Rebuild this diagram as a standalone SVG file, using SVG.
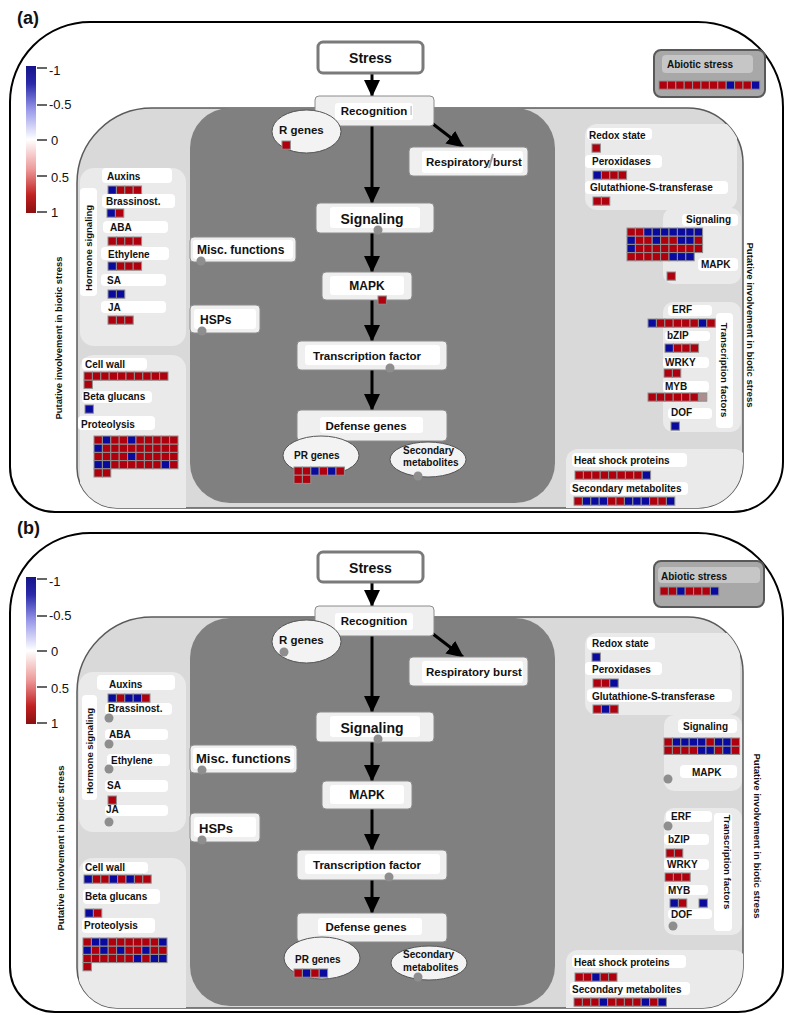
<svg xmlns="http://www.w3.org/2000/svg" xmlns:xlink="http://www.w3.org/1999/xlink" width="789" height="1015" viewBox="0 0 789 1015">
<style>
text{font-family:"Liberation Sans",Arial,sans-serif;fill:#111}
.pl{font-size:18px;font-weight:bold}
.lg{font-size:13px}
.l{font-size:10px;font-weight:bold}
.c14{font-size:14px;font-weight:bold;text-anchor:middle}
.c12{font-size:12px;font-weight:bold}
.c115{font-size:11.5px;font-weight:bold}
.mid{text-anchor:middle}
.vt{font-size:9.5px;font-weight:bold;text-anchor:middle}
.outer{fill:#fff;stroke:#000;stroke-width:2}
.inner{fill:#d9d9d9;stroke:#5a5a5a;stroke-width:1.5}
.dark{fill:#808080}
.sub{fill:#eaeaea}
.wl{fill:#fff}
.box{fill:#efefef;stroke:#8c8c8c;stroke-width:1}
.sbox{fill:#fff;stroke:#7a7a7a;stroke-width:3}
.ell{fill:#f3f3f3;stroke:#555;stroke-width:1}
.abox{fill:#a8a8a8;stroke:#595959;stroke-width:2}
.alab{fill:#c6c6c6}
.dot{fill:#8e8e8e}
.arr{stroke:#000;stroke-width:3;fill:none;marker-end:url(#ah)}
.tick{stroke:#333;stroke-width:1.5}
</style>
<defs>
<linearGradient id="lgd" x1="0" y1="0" x2="0" y2="1">
<stop offset="0" stop-color="#14148a"/>
<stop offset="0.12" stop-color="#2a2aaa"/>
<stop offset="0.3" stop-color="#9a9aea"/>
<stop offset="0.5" stop-color="#ffffff"/>
<stop offset="0.7" stop-color="#ee9a9a"/>
<stop offset="0.88" stop-color="#c02020"/>
<stop offset="1" stop-color="#8a1010"/>
</linearGradient>
<marker id="ah" markerUnits="userSpaceOnUse" markerWidth="17" markerHeight="16" refX="16" refY="8" orient="auto">
<path d="M0,0 L17,8 L0,16 Z" fill="#000"/>
</marker>
<rect id="R" width="8.4" height="8.2" fill="#b0000d" stroke="#8f8f8f" stroke-width="1"/>
<rect id="U" width="8.4" height="8.2" fill="#0a0a9e" stroke="#8f8f8f" stroke-width="1"/>
<rect id="G" width="8.4" height="8.2" fill="#b08c8c" stroke="#8f8f8f" stroke-width="1"/>
<clipPath id="clipA"><path d="M152,108 H688 A55,55 0 0 1 743,163 V463 A45,45 0 0 1 698,508 H117 A40,40 0 0 1 77,468 V183 A75,75 0 0 1 152,108 Z"/></clipPath>
<clipPath id="clipB"><path d="M152,617 H688 A55,55 0 0 1 743,672 V968 A40,40 0 0 1 703,1008 H117 A40,40 0 0 1 77,968 V692 A75,75 0 0 1 152,617 Z"/></clipPath>
</defs>

<!-- ================= PANEL A ================= -->
<g id="panel-a-frame">
<text x="17" y="24" class="pl">(a)</text>
<path class="outer" d="M90,22 H698 A85,85 0 0 1 783,107 V462 A50,50 0 0 1 733,512 H55 A45,45 0 0 1 10,467 V102 A80,80 0 0 1 90,22 Z"/>
<path class="inner" d="M152,108 H688 A55,55 0 0 1 743,163 V463 A45,45 0 0 1 698,508 H117 A40,40 0 0 1 77,468 V183 A75,75 0 0 1 152,108 Z"/>
<g clip-path="url(#clipA)">
<rect class="dark" x="190" y="108" width="365" height="395" rx="40"/>
<rect class="sub" x="80" y="168" width="106" height="178" rx="14"/>
<rect class="sub" x="80" y="355" width="106" height="170" rx="14"/>
<rect class="sub" x="585" y="124" width="152" height="86" rx="12"/>
<rect class="sub" x="663" y="208" width="78" height="76" rx="10"/>
<rect class="sub" x="663" y="302" width="78" height="130" rx="10"/>
<rect class="sub" x="566" y="449" width="180" height="70" rx="12"/>
</g>
</g>

<g id="legend-a">
<rect x="26" y="66" width="10" height="147" fill="url(#lgd)"/>
<line class="tick" x1="37" y1="68" x2="47" y2="68"/>
<line class="tick" x1="37" y1="105" x2="47" y2="105"/>
<line class="tick" x1="37" y1="140" x2="47" y2="140"/>
<line class="tick" x1="37" y1="176" x2="47" y2="176"/>
<line class="tick" x1="37" y1="212" x2="47" y2="212"/>
<text x="49" y="75" class="lg">-1</text>
<text x="49" y="109" class="lg">-0.5</text>
<text x="51" y="145" class="lg">0</text>
<text x="51" y="182" class="lg">0.5</text>
<text x="51" y="217" class="lg">1</text>
</g>

<g id="side-labels-a">
<text class="vt" transform="translate(62,338) rotate(-90)" textLength="163" lengthAdjust="spacingAndGlyphs">Putative involvement in biotic stress</text>
<text class="vt" transform="translate(746.5,325) rotate(90)" textLength="165" lengthAdjust="spacingAndGlyphs">Putative involvement in biotic stress</text>
</g>

<g id="connectors-a">
<line class="arr" x1="372" y1="73" x2="372" y2="96"/>
<line class="arr" x1="372" y1="126" x2="372" y2="203"/>
<line class="arr" x1="433" y1="124" x2="463" y2="147"/>
<line class="arr" x1="372" y1="233" x2="372" y2="272"/>
<line class="arr" x1="372" y1="300" x2="372" y2="341"/>
<line class="arr" x1="372" y1="370" x2="372" y2="410"/>
</g>

<g id="a-stress"><rect class="sbox" x="318" y="42" width="105" height="31" rx="5"/><text x="370.5" y="63" class="c14">Stress</text></g>
<g id="a-recognition"><rect class="box" x="315" y="96" width="119" height="30" rx="4"/><rect class="wl" x="335" y="103" width="78" height="17" rx="3"/><text x="374" y="115" class="c115 mid">Recognition</text><rect x="410.5" y="106" width="1.2" height="9" fill="#bbb"/></g>
<g id="a-rgenes"><ellipse class="ell" cx="306.5" cy="131.5" rx="34.5" ry="21.5"/><text x="279" y="134" class="c115">R genes</text><use href="#R" x="282" y="141"/></g>
<g id="a-resp"><rect class="box" x="409" y="147" width="119" height="29" rx="4"/><rect class="wl" x="422" y="151" width="101" height="22" rx="3"/><text x="426" y="166" class="c115">Respiratory burst</text><line x1="493" y1="154" x2="489" y2="168" stroke="#9a9a9a" stroke-width="2"/></g>
<g id="a-signaling"><rect class="box" x="316" y="203" width="118" height="30" rx="4"/><rect class="wl" x="330" y="207" width="90" height="21" rx="3"/><text x="372" y="224" class="c14">Signaling</text><circle class="dot" cx="378" cy="230" r="4.5"/></g>
<g id="a-misc"><rect class="box" x="190" y="237" width="106" height="25" rx="4"/><rect class="wl" x="193" y="240" width="100" height="19" rx="3"/><text x="197" y="254" class="c12">Misc. functions</text><circle class="dot" cx="201" cy="261" r="4.5"/></g>
<g id="a-mapk"><rect class="box" x="322" y="272" width="90" height="28" rx="4"/><rect class="wl" x="330" y="276" width="74" height="19" rx="3"/><text x="367" y="290" class="c12 mid">MAPK</text><use href="#R" x="378" y="296"/></g>
<g id="a-hsps"><rect class="box" x="190" y="305" width="70" height="28" rx="4"/><rect class="wl" x="194" y="309" width="62" height="20" rx="3"/><text x="200" y="324" class="c12">HSPs</text><circle class="dot" cx="202" cy="331" r="4.5"/></g>
<g id="a-tf"><rect class="box" x="297" y="341" width="150" height="29" rx="4"/><rect class="wl" x="305" y="345" width="135" height="20" rx="3"/><text x="367" y="360" class="c115 mid">Transcription factor</text><circle class="dot" cx="390" cy="368" r="4.5"/></g>
<g id="a-defense"><rect class="box" x="297" y="410" width="150" height="31" rx="4"/><rect class="wl" x="320" y="417" width="103" height="16" rx="3"/><text x="366" y="430" class="c115 mid">Defense genes</text></g>
<g id="a-prgenes"><ellipse class="ell" cx="321" cy="455.5" rx="38" ry="19.5"/><text x="294" y="459" class="l">PR genes</text>
<g transform="translate(294,467)"><use href="#R" x="0"/><use href="#R" x="8.4"/><use href="#U" x="16.8"/><use href="#R" x="25.2"/><use href="#U" x="33.6"/><use href="#R" x="42"/><use href="#R" x="0" y="8.2"/><use href="#R" x="8.4" y="8.2"/></g></g>
<g id="a-secmet"><ellipse class="ell" cx="428" cy="459.5" rx="38" ry="17.5"/><text x="403" y="454" class="l">Secondary</text><text x="403" y="466" class="l">metabolites</text><circle class="dot" cx="418" cy="476" r="4.5"/></g>

<g id="a-hormone">
<rect class="wl" x="80" y="188" width="17" height="108" rx="4"/>
<text class="vt" transform="translate(92,248) rotate(-90)">Hormone signaling</text>
<rect class="wl" x="102" y="168" width="70" height="15" rx="4"/><text x="107" y="180" class="l">Auxins</text>
<g transform="translate(108,186)"><use href="#U" x="0"/><use href="#R" x="8.4"/><use href="#R" x="16.8"/><use href="#R" x="25.2"/></g>
<rect class="wl" x="102" y="194" width="73" height="14" rx="4"/><text x="106" y="205" class="l">Brassinost.</text>
<g transform="translate(107,209)"><use href="#U" x="0"/><use href="#R" x="8.4"/></g>
<rect class="wl" x="103" y="221" width="65" height="12" rx="4"/><text x="110" y="231" class="l">ABA</text>
<g transform="translate(108,237)"><use href="#R" x="0"/><use href="#R" x="8.4"/><use href="#R" x="16.8"/><use href="#R" x="25.2"/></g>
<rect class="wl" x="101" y="247" width="68" height="13" rx="4"/><text x="108" y="258" class="l">Ethylene</text>
<g transform="translate(108,262)"><use href="#U" x="0"/><use href="#R" x="8.4"/><use href="#R" x="16.8"/><use href="#R" x="25.2"/></g>
<rect class="wl" x="101" y="274" width="65" height="12" rx="4"/><text x="107" y="284" class="l">SA</text>
<g transform="translate(108,290)"><use href="#U" x="0"/><use href="#U" x="8.4"/></g>
<rect class="wl" x="101" y="301" width="65" height="12" rx="4"/><text x="108" y="311" class="l">JA</text>
<g transform="translate(108,316)"><use href="#R" x="0"/><use href="#R" x="8.4"/><use href="#R" x="16.8"/></g>
</g>

<g id="a-cellwall">
<rect class="wl" x="82" y="358" width="65" height="12" rx="4"/><text x="85" y="368" class="l">Cell wall</text>
<g transform="translate(84,372)"><use href="#R" x="0"/><use href="#R" x="8.4"/><use href="#R" x="16.8"/><use href="#R" x="25.2"/><use href="#R" x="33.6"/><use href="#R" x="42"/><use href="#R" x="50.4"/><use href="#R" x="58.8"/><use href="#R" x="67.2"/><use href="#R" x="75.6"/><use href="#R" x="0" y="8.2"/></g>
<rect class="wl" x="82" y="391" width="70" height="12" rx="4"/><text x="83" y="400" class="l">Beta glucans</text>
<use href="#U" x="85" y="405"/>
<rect class="wl" x="78" y="416" width="77" height="14" rx="4"/><text x="81" y="428" class="l">Proteolysis</text>
<g transform="translate(94,436)">
<use href="#R" x="0"/><use href="#U" x="8.4"/><use href="#R" x="16.8"/><use href="#R" x="25.2"/><use href="#U" x="33.6"/><use href="#R" x="42"/><use href="#R" x="50.4"/><use href="#R" x="58.8"/><use href="#R" x="67.2"/><use href="#R" x="75.6"/>
<use href="#U" x="0" y="8.2"/><use href="#R" x="8.4" y="8.2"/><use href="#R" x="16.8" y="8.2"/><use href="#R" x="25.2" y="8.2"/><use href="#R" x="33.6" y="8.2"/><use href="#R" x="42" y="8.2"/><use href="#R" x="50.4" y="8.2"/><use href="#R" x="58.8" y="8.2"/><use href="#R" x="67.2" y="8.2"/><use href="#R" x="75.6" y="8.2"/>
<use href="#R" x="0" y="16.4"/><use href="#R" x="8.4" y="16.4"/><use href="#R" x="16.8" y="16.4"/><use href="#R" x="25.2" y="16.4"/><use href="#U" x="33.6" y="16.4"/><use href="#R" x="42" y="16.4"/><use href="#R" x="50.4" y="16.4"/><use href="#R" x="58.8" y="16.4"/><use href="#R" x="67.2" y="16.4"/><use href="#R" x="75.6" y="16.4"/>
<use href="#U" x="0" y="24.6"/><use href="#U" x="8.4" y="24.6"/><use href="#R" x="16.8" y="24.6"/><use href="#R" x="25.2" y="24.6"/><use href="#R" x="33.6" y="24.6"/><use href="#R" x="42" y="24.6"/><use href="#R" x="50.4" y="24.6"/><use href="#R" x="58.8" y="24.6"/><use href="#U" x="67.2" y="24.6"/><use href="#R" x="75.6" y="24.6"/>
<use href="#R" x="0" y="32.8"/><use href="#R" x="8.4" y="32.8"/>
</g>
</g>

<g id="a-abiotic">
<rect class="abox" x="654" y="50" width="111" height="47" rx="7"/>
<rect class="alab" x="662" y="55" width="91" height="18" rx="4"/>
<text x="667" y="68" class="l">Abiotic stress</text>
<g transform="translate(659,81)"><use href="#R" x="0"/><use href="#R" x="8.4"/><use href="#R" x="16.8"/><use href="#R" x="25.2"/><use href="#R" x="33.6"/><use href="#R" x="42"/><use href="#R" x="50.4"/><use href="#R" x="58.8"/><use href="#U" x="67.2"/><use href="#R" x="75.6"/><use href="#R" x="84"/><use href="#U" x="92.4"/></g>
</g>

<g id="a-ros">
<rect class="wl" x="587" y="128" width="65" height="12" rx="4"/><text x="589" y="139" class="l">Redox state</text>
<use href="#R" x="592" y="144"/>
<rect class="wl" x="585" y="155" width="77" height="13" rx="4"/><text x="592" y="165" class="l">Peroxidases</text>
<g transform="translate(593,171)"><use href="#U" x="0"/><use href="#R" x="8.4"/><use href="#R" x="16.8"/><use href="#R" x="25.2"/></g>
<rect class="wl" x="585" y="181" width="143" height="13" rx="4"/><text x="590" y="191" class="l">Glutathione-S-transferase</text>
<g transform="translate(593,197)"><use href="#R" x="0"/><use href="#R" x="8.4"/></g>
</g>

<g id="a-signal-right">
<rect class="wl" x="682" y="214" width="56" height="12" rx="4"/><text x="686" y="223" class="l">Signaling</text>
<g transform="translate(627,228)">
<use href="#R" x="0"/><use href="#R" x="8.4"/><use href="#U" x="16.8"/><use href="#U" x="25.2"/><use href="#U" x="33.6"/><use href="#U" x="42"/><use href="#U" x="50.4"/><use href="#U" x="58.8"/><use href="#U" x="67.2"/>
<use href="#U" x="0" y="8.2"/><use href="#R" x="8.4" y="8.2"/><use href="#R" x="16.8" y="8.2"/><use href="#U" x="25.2" y="8.2"/><use href="#R" x="33.6" y="8.2"/><use href="#R" x="42" y="8.2"/><use href="#U" x="50.4" y="8.2"/><use href="#U" x="58.8" y="8.2"/><use href="#R" x="67.2" y="8.2"/>
<use href="#U" x="0" y="16.4"/><use href="#R" x="8.4" y="16.4"/><use href="#R" x="16.8" y="16.4"/><use href="#R" x="25.2" y="16.4"/><use href="#R" x="33.6" y="16.4"/><use href="#R" x="42" y="16.4"/><use href="#R" x="50.4" y="16.4"/><use href="#R" x="58.8" y="16.4"/><use href="#R" x="67.2" y="16.4"/>
<use href="#R" x="0" y="24.6"/><use href="#R" x="8.4" y="24.6"/><use href="#R" x="16.8" y="24.6"/><use href="#R" x="25.2" y="24.6"/><use href="#R" x="33.6" y="24.6"/><use href="#U" x="42" y="24.6"/><use href="#U" x="50.4" y="24.6"/><use href="#U" x="58.8" y="24.6"/>
</g>
<rect class="wl" x="698" y="258" width="40" height="13" rx="4"/><text x="701" y="268" class="l">MAPK</text>
<use href="#R" x="667" y="272"/>
</g>

<g id="a-tfs">
<rect class="wl" x="716" y="313" width="17" height="115" rx="4"/>
<text class="vt" transform="translate(721,370) rotate(90)">Transcription factors</text>
<rect class="wl" x="668" y="305" width="44" height="11" rx="4"/><text x="672" y="313" class="l">ERF</text>
<g transform="translate(648,319)"><use href="#U" x="0"/><use href="#R" x="8.4"/><use href="#R" x="16.8"/><use href="#R" x="25.2"/><use href="#R" x="33.6"/><use href="#R" x="42"/><use href="#U" x="50.4"/><use href="#R" x="58.8"/></g>
<rect class="wl" x="665" y="331" width="45" height="10" rx="4"/><text x="667" y="339" class="l">bZIP</text>
<g transform="translate(665,344)"><use href="#U" x="0"/><use href="#R" x="8.4"/><use href="#R" x="16.8"/><use href="#R" x="25.2"/></g>
<rect class="wl" x="663" y="357" width="46" height="11" rx="4"/><text x="665" y="366" class="l">WRKY</text>
<g transform="translate(664,369)"><use href="#R" x="0"/><use href="#R" x="8.4"/></g>
<rect class="wl" x="663" y="381" width="46" height="11" rx="4"/><text x="665" y="390" class="l">MYB</text>
<g transform="translate(648,393)"><use href="#R" x="0"/><use href="#R" x="8.4"/><use href="#R" x="16.8"/><use href="#R" x="25.2"/><use href="#R" x="33.6"/><use href="#R" x="42"/><use href="#G" x="50.4"/></g>
<rect class="wl" x="668" y="408" width="44" height="11" rx="4"/><text x="671" y="416" class="l">DOF</text>
<use href="#U" x="671" y="422"/>
</g>

<g id="a-bottomright">
<rect class="wl" x="572" y="453" width="115" height="14" rx="4"/><text x="574" y="464" class="l">Heat shock proteins</text>
<g transform="translate(575,471)"><use href="#R" x="0"/><use href="#R" x="8.4"/><use href="#R" x="16.8"/><use href="#R" x="25.2"/><use href="#R" x="33.6"/><use href="#R" x="42"/><use href="#R" x="50.4"/><use href="#R" x="58.8"/><use href="#U" x="67.2"/></g>
<rect class="wl" x="570" y="482" width="118" height="13" rx="4"/><text x="572" y="492" class="l">Secondary metabolites</text>
<g transform="translate(574,497)"><use href="#R" x="0"/><use href="#U" x="8.4"/><use href="#U" x="16.8"/><use href="#U" x="25.2"/><use href="#R" x="33.6"/><use href="#R" x="42"/><use href="#U" x="50.4"/><use href="#U" x="58.8"/><use href="#U" x="67.2"/><use href="#R" x="75.6"/><use href="#R" x="84"/><use href="#U" x="92.4"/></g>
</g>

<!-- ================= PANEL B ================= -->
<g id="panel-b-frame">
<text x="17" y="534" class="pl">(b)</text>
<path class="outer" d="M90,533 H698 A85,85 0 0 1 783,618 V967 A45,45 0 0 1 738,1012 H55 A45,45 0 0 1 10,967 V613 A80,80 0 0 1 90,533 Z"/>
<path class="inner" d="M152,617 H688 A55,55 0 0 1 743,672 V968 A40,40 0 0 1 703,1008 H117 A40,40 0 0 1 77,968 V692 A75,75 0 0 1 152,617 Z"/>
<g clip-path="url(#clipB)">
<rect class="dark" x="190" y="618" width="365" height="388" rx="40"/>
<rect class="sub" x="79" y="672" width="107" height="160" rx="14"/>
<rect class="sub" x="79" y="858" width="107" height="170" rx="14"/>
<rect class="sub" x="585" y="633" width="155" height="82" rx="12"/>
<rect class="sub" x="664" y="715" width="78" height="76" rx="10"/>
<rect class="sub" x="664" y="808" width="78" height="127" rx="10"/>
<rect class="sub" x="566" y="950" width="180" height="70" rx="12"/>
</g>
</g>

<g id="legend-b" transform="translate(0,511)">
<rect x="26" y="66" width="10" height="147" fill="url(#lgd)"/>
<line class="tick" x1="37" y1="68" x2="47" y2="68"/>
<line class="tick" x1="37" y1="105" x2="47" y2="105"/>
<line class="tick" x1="37" y1="140" x2="47" y2="140"/>
<line class="tick" x1="37" y1="176" x2="47" y2="176"/>
<line class="tick" x1="37" y1="212" x2="47" y2="212"/>
<text x="49" y="75" class="lg">-1</text>
<text x="49" y="109" class="lg">-0.5</text>
<text x="51" y="145" class="lg">0</text>
<text x="51" y="182" class="lg">0.5</text>
<text x="51" y="217" class="lg">1</text>
</g>

<g id="side-labels-b">
<text class="vt" transform="translate(64,848) rotate(-90)" textLength="165" lengthAdjust="spacingAndGlyphs">Putative involvement in biotic stress</text>
<text class="vt" transform="translate(753.5,836) rotate(90)" textLength="165" lengthAdjust="spacingAndGlyphs">Putative involvement in biotic stress</text>
</g>

<g id="connectors-b">
<line class="arr" x1="372" y1="582" x2="372" y2="606"/>
<line class="arr" x1="372" y1="636" x2="372" y2="712"/>
<line class="arr" x1="433" y1="634" x2="463" y2="657"/>
<line class="arr" x1="372" y1="742" x2="372" y2="781"/>
<line class="arr" x1="372" y1="809" x2="372" y2="850"/>
<line class="arr" x1="372" y1="880" x2="372" y2="913"/>
</g>

<g id="b-stress"><rect class="sbox" x="318" y="552" width="105" height="30" rx="5"/><text x="370.5" y="573" class="c14">Stress</text></g>
<g id="b-recognition"><rect class="box" x="315" y="606" width="119" height="30" rx="4"/><rect class="wl" x="335" y="613" width="78" height="17" rx="3"/><text x="374" y="625" class="c115 mid">Recognition</text></g>
<g id="b-rgenes"><ellipse class="ell" cx="306.5" cy="641.5" rx="34.5" ry="21.5"/><text x="279" y="644" class="c115">R genes</text><circle class="dot" cx="284" cy="652" r="4.5"/></g>
<g id="b-resp"><rect class="box" x="409" y="657" width="119" height="29" rx="4"/><rect class="wl" x="422" y="661" width="101" height="22" rx="3"/><text x="426" y="676" class="c115">Respiratory burst</text></g>
<g id="b-signaling"><rect class="box" x="316" y="712" width="118" height="30" rx="4"/><rect class="wl" x="330" y="716" width="90" height="21" rx="3"/><text x="372" y="733" class="c14">Signaling</text><circle class="dot" cx="378" cy="739" r="4.5"/></g>
<g id="b-misc"><rect class="box" x="190" y="745" width="107" height="28" rx="4"/><rect class="wl" x="193" y="748" width="101" height="21" rx="3"/><text x="196" y="763" class="c12" style="font-size:13px">Misc. functions</text><circle class="dot" cx="202" cy="770" r="4.5"/></g>
<g id="b-mapk"><rect class="box" x="322" y="781" width="90" height="28" rx="4"/><rect class="wl" x="330" y="785" width="74" height="19" rx="3"/><text x="367" y="799" class="c12 mid">MAPK</text></g>
<g id="b-hsps"><rect class="box" x="190" y="813" width="70" height="29" rx="4"/><rect class="wl" x="194" y="817" width="62" height="20" rx="3"/><text x="199" y="833" class="c12" style="font-size:13px">HSPs</text><circle class="dot" cx="202" cy="840" r="4.5"/></g>
<g id="b-tf"><rect class="box" x="297" y="850" width="150" height="30" rx="4"/><rect class="wl" x="305" y="854" width="135" height="20" rx="3"/><text x="367" y="869" class="c115 mid">Transcription factor</text><circle class="dot" cx="389" cy="877" r="4.5"/></g>
<g id="b-defense"><rect class="box" x="297" y="913" width="150" height="29" rx="4"/><rect class="wl" x="318" y="918" width="104" height="17" rx="3"/><text x="366" y="931" class="c115 mid">Defense genes</text></g>
<g id="b-prgenes"><ellipse class="ell" cx="322" cy="958" rx="38" ry="21"/><text x="295" y="963" class="l">PR genes</text>
<g transform="translate(294,969)"><use href="#R" x="0"/><use href="#U" x="8.4"/><use href="#R" x="16.8"/><use href="#U" x="25.2"/></g></g>
<g id="b-secmet"><ellipse class="ell" cx="429" cy="963" rx="38" ry="17"/><text x="403" y="958" class="l">Secondary</text><text x="403" y="971" class="l">metabolites</text><circle class="dot" cx="418" cy="977" r="4.5"/></g>

<g id="b-hormone">
<rect class="wl" x="82" y="695" width="15" height="105" rx="4"/>
<text class="vt" transform="translate(92.5,751) rotate(-90)">Hormone signaling</text>
<rect class="wl" x="97" y="675" width="78" height="15" rx="4"/><text x="109" y="688" class="l">Auxins</text>
<g transform="translate(108,694)"><use href="#U" x="0"/><use href="#R" x="8.4"/><use href="#U" x="16.8"/><use href="#U" x="25.2"/><use href="#R" x="33.6"/></g>
<rect class="wl" x="105" y="703" width="67" height="12" rx="4"/><text x="108" y="712" class="l">Brassinost.</text>
<circle class="dot" cx="109" cy="718" r="4.5"/>
<rect class="wl" x="105" y="729" width="63" height="11" rx="4"/><text x="109" y="738" class="l">ABA</text>
<circle class="dot" cx="109" cy="744" r="4.5"/>
<rect class="wl" x="107" y="754" width="63" height="12" rx="4"/><text x="111" y="764" class="l">Ethylene</text>
<circle class="dot" cx="109" cy="769" r="4.5"/>
<rect class="wl" x="105" y="780" width="63" height="12" rx="4"/><text x="107" y="789" class="l">SA</text>
<use href="#R" x="108" y="796"/>
<rect class="wl" x="105" y="805" width="63" height="11" rx="4"/><text x="106" y="813" class="l">JA</text>
<circle class="dot" cx="109" cy="822" r="4.5"/>
</g>

<g id="b-cellwall">
<rect class="wl" x="83" y="862" width="65" height="11" rx="4"/><text x="85" y="871" class="l">Cell wall</text>
<g transform="translate(84,875)"><use href="#U" x="0"/><use href="#R" x="8.4"/><use href="#R" x="16.8"/><use href="#U" x="25.2"/><use href="#R" x="33.6"/><use href="#U" x="42"/><use href="#R" x="50.4"/><use href="#R" x="58.8"/></g>
<rect class="wl" x="83" y="889" width="77" height="15" rx="4"/><text x="85" y="900" class="l">Beta glucans</text>
<g transform="translate(85,909)"><use href="#U" x="0"/><use href="#R" x="8.4"/></g>
<rect class="wl" x="82" y="918" width="73" height="15" rx="4"/><text x="84" y="929" class="l">Proteolysis</text>
<g transform="translate(83,938)">
<use href="#R" x="0"/><use href="#U" x="8.4"/><use href="#U" x="16.8"/><use href="#R" x="25.2"/><use href="#R" x="33.6"/><use href="#R" x="42"/><use href="#R" x="50.4"/><use href="#R" x="58.8"/><use href="#R" x="67.2"/><use href="#U" x="75.6"/>
<use href="#U" x="0" y="8.2"/><use href="#R" x="8.4" y="8.2"/><use href="#U" x="16.8" y="8.2"/><use href="#R" x="25.2" y="8.2"/><use href="#U" x="33.6" y="8.2"/><use href="#R" x="42" y="8.2"/><use href="#R" x="50.4" y="8.2"/><use href="#U" x="58.8" y="8.2"/><use href="#R" x="67.2" y="8.2"/><use href="#R" x="75.6" y="8.2"/>
<use href="#R" x="0" y="16.4"/><use href="#R" x="8.4" y="16.4"/><use href="#R" x="16.8" y="16.4"/><use href="#R" x="25.2" y="16.4"/><use href="#R" x="33.6" y="16.4"/><use href="#R" x="42" y="16.4"/><use href="#U" x="50.4" y="16.4"/><use href="#R" x="58.8" y="16.4"/><use href="#U" x="67.2" y="16.4"/><use href="#U" x="75.6" y="16.4"/>
<use href="#R" x="0" y="24.6"/>
</g>
</g>

<g id="b-abiotic">
<rect class="abox" x="654" y="561" width="110" height="46" rx="7"/>
<rect class="alab" x="658" y="567" width="102" height="16" rx="4"/>
<text x="661" y="580" class="l">Abiotic stress</text>
<g transform="translate(660,587)"><use href="#R" x="0"/><use href="#R" x="8.4"/><use href="#U" x="16.8"/><use href="#R" x="25.2"/><use href="#R" x="33.6"/><use href="#R" x="42"/><use href="#U" x="50.4"/></g>
</g>

<g id="b-ros">
<rect class="wl" x="587" y="637" width="68" height="13" rx="4"/><text x="592" y="647" class="l">Redox state</text>
<use href="#U" x="592" y="653"/>
<rect class="wl" x="585" y="662" width="77" height="13" rx="4"/><text x="592" y="673" class="l">Peroxidases</text>
<g transform="translate(593,679)"><use href="#R" x="0"/><use href="#R" x="8.4"/><use href="#U" x="16.8"/></g>
<rect class="wl" x="587" y="689" width="145" height="13" rx="4"/><text x="592" y="700" class="l">Glutathione-S-transferase</text>
<g transform="translate(593,705)"><use href="#R" x="0"/><use href="#U" x="8.4"/><use href="#R" x="16.8"/></g>
</g>

<g id="b-signal-right">
<rect class="wl" x="678" y="719" width="59" height="14" rx="4"/><text x="683" y="730" class="l">Signaling</text>
<g transform="translate(664,738)">
<use href="#R" x="0"/><use href="#U" x="8.4"/><use href="#U" x="16.8"/><use href="#U" x="25.2"/><use href="#U" x="33.6"/><use href="#R" x="42"/><use href="#U" x="50.4"/><use href="#U" x="58.8"/><use href="#R" x="67.2"/>
<use href="#R" x="0" y="8.2"/><use href="#R" x="8.4" y="8.2"/><use href="#R" x="16.8" y="8.2"/><use href="#R" x="25.2" y="8.2"/><use href="#U" x="33.6" y="8.2"/><use href="#U" x="42" y="8.2"/><use href="#R" x="50.4" y="8.2"/><use href="#U" x="58.8" y="8.2"/><use href="#R" x="67.2" y="8.2"/>
</g>
<rect class="wl" x="680" y="765" width="57" height="13" rx="4"/><text x="692" y="776" class="l">MAPK</text>
<circle class="dot" cx="668" cy="779" r="4.5"/>
</g>

<g id="b-tfs">
<rect class="wl" x="714" y="813" width="18" height="118" rx="4"/>
<text class="vt" transform="translate(724,862) rotate(90)">Transcription factors</text>
<rect class="wl" x="666" y="811" width="46" height="11" rx="4"/><text x="671" y="820" class="l">ERF</text>
<circle class="dot" cx="668" cy="826" r="4.5"/>
<rect class="wl" x="664" y="834" width="45" height="11" rx="4"/><text x="668" y="843" class="l">bZIP</text>
<g transform="translate(666,849)"><use href="#R" x="0"/><use href="#R" x="8.4"/></g>
<rect class="wl" x="664" y="859" width="45" height="11" rx="4"/><text x="667" y="868" class="l">WRKY</text>
<g transform="translate(665,873)"><use href="#R" x="0"/><use href="#R" x="8.4"/><use href="#R" x="16.8"/></g>
<rect class="wl" x="666" y="885" width="42" height="10" rx="4"/><text x="668" y="894" class="l">MYB</text>
<g transform="translate(670,899)"><use href="#U" x="0"/><use href="#R" x="8.4"/></g>
<use href="#U" x="699" y="899"/>
<rect class="wl" x="668" y="909" width="44" height="10" rx="4"/><text x="671" y="918" class="l">DOF</text>
<circle class="dot" cx="673" cy="926" r="4.5"/>
</g>

<g id="b-bottomright">
<rect class="wl" x="572" y="955" width="114" height="13" rx="4"/><text x="574" y="966" class="l">Heat shock proteins</text>
<g transform="translate(575,973)"><use href="#R" x="0"/><use href="#R" x="8.4"/><use href="#U" x="16.8"/><use href="#R" x="25.2"/><use href="#R" x="33.6"/></g>
<rect class="wl" x="570" y="982" width="120" height="13" rx="4"/><text x="572" y="993" class="l">Secondary metabolites</text>
<g transform="translate(574,998)"><use href="#R" x="0"/><use href="#R" x="8.4"/><use href="#R" x="16.8"/><use href="#U" x="25.2"/><use href="#R" x="33.6"/><use href="#R" x="42"/><use href="#R" x="50.4"/><use href="#R" x="58.8"/><use href="#U" x="67.2"/><use href="#R" x="75.6"/><use href="#U" x="84"/></g>
</g>
</svg>
